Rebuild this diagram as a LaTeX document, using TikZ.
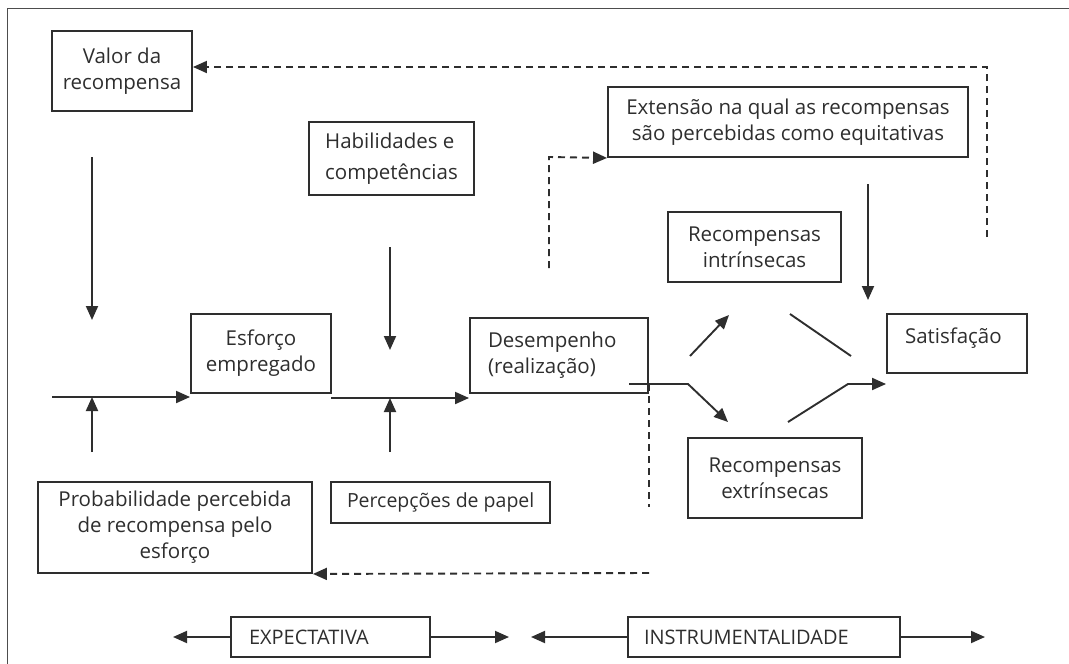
\documentclass[tikz,border=0pt]{standalone}
\usepackage{fontspec}
\setmainfont{Open Sans}
\usetikzlibrary{arrows.meta}
\definecolor{ink}{HTML}{2E2E2E}
\newcommand\fixw[2]{\makebox[#1][l]{#2}}
\begin{document}
\begin{tikzpicture}[x=1pt,y=-1pt,
  box/.style={draw=ink, line width=1.9pt, inner sep=0pt, text=ink, font=\fontsize{20.5}{26}\selectfont},
  cbox/.style={box, align=center},
  lbox/.style={box, align=left},
  conn/.style={draw=ink, line width=1.9pt},
  arr/.style={conn, -{Triangle[length=14pt,width=12pt]}},
  dline/.style={conn, dash pattern=on 7pt off 5pt},
  darr/.style={dline, -{Triangle[length=14pt,width=12pt]}},
  frame/.style={draw=ink!85, line width=1.9pt}
]
\useasboundingbox (0,0) rectangle (1069,664);
\draw[frame] (7.5,664) -- (7.5,8.5) -- (1069,8.5);

% boxes
\node[cbox, minimum width=140pt, minimum height=80pt] (valor) at (122,71) {Valor da\\recompensa};
\node[lbox, font=\fontsize{20.5}{31}\selectfont, minimum height=73pt, inner xsep=16pt] (hab) at (391.5,158.5) {\fixw{129pt}{Habilidades e}\\competências};
\node[cbox, minimum width=360pt, minimum height=70pt] (ext) at (788,122) {Extensão na qual as recompensas\\são percebidas como equitativas};
\node[cbox, minimum width=173pt, minimum height=70pt] (intr) at (754.5,247) {Recompensas\\intrínsecas};
\node[cbox, minimum width=140pt, minimum height=79pt] (esf) at (261,353.5) {Esforço\\empregado};
\node[lbox, minimum height=75pt, inner xsep=18pt] (des) at (559,355.5) {\fixw{142pt}{Desempenho}\\(realização)};
\node[lbox, minimum height=59pt, inner xsep=18pt, text depth=15pt] (sat) at (957,343.5) {\fixw{104pt}{Satisfação}};
\node[cbox, minimum width=174pt, minimum height=80pt] (extr) at (775,478) {Recompensas\\extrínsecas};
\node[cbox, minimum width=274pt, minimum height=91pt] (prob) at (175,527.5) {Probabilidade percebida\\de recompensa pelo\\esforço};
\node[lbox, font=\fontsize{19.5}{24}\selectfont, minimum height=41pt, inner xsep=16pt] (perc) at (440.5,502.5) {\fixw{187pt}{Percepções de papel}};
\node[lbox, font=\fontsize{20}{24}\selectfont, minimum height=40pt, inner xsep=18pt] (expe) at (330.5,637) {\fixw{163pt}{EXPECTATIVA}};
\node[lbox, font=\fontsize{20}{24}\selectfont, minimum height=40pt, inner xsep=16pt] (instr) at (764,637) {\fixw{240pt}{INSTRUMENTALIDADE}};

% coordinates
\coordinate (v1) at (92,157);
\coordinate (v2) at (92,320);
\coordinate (h0) at (52,397);
\coordinate (u1) at (92,452);
\coordinate (h1) at (331,398);
\coordinate (a1) at (390,247);
\coordinate (a2) at (390,350);
\coordinate (p1) at (390,452);
\coordinate (d1) at (629,384);
\coordinate (d2) at (688,384);
\coordinate (d3) at (728,422);
\coordinate (i1) at (690,356);
\coordinate (i2) at (729,315);
\coordinate (s1) at (790,314);
\coordinate (s2) at (851,356);
\coordinate (e1) at (788,422);
\coordinate (e2) at (848,384);
\coordinate (x1) at (868,184);
\coordinate (x2) at (868,300);
\coordinate (q1) at (549,268);
\coordinate (q2) at (549,157);
\coordinate (r1) at (987,237);
\coordinate (r2) at (987,67);
\coordinate (t1) at (649,384);
\coordinate (t2) at (649,507);
\coordinate (t3) at (649,573);
\coordinate (b1) at (173,637);
\coordinate (b2) at (509,637);
\coordinate (b3) at (531,637);
\coordinate (b4) at (985,637);

% connectors
\draw[arr] (v1) -- (v2);
\draw[arr] (h0) -- (h0 -| esf.west);
\draw[arr] (u1) -- (u1 |- h0);
\draw[arr] (h1) -- (h1 -| des.west);
\draw[arr] (a1) -- (a2);
\draw[arr] (p1) -- (p1 |- h1);
\draw[arr] (d1) -- (d2) -- (d3);
\draw[arr] (i1) -- (i2);
\draw[conn] (s1) -- (s2);
\draw[arr] (e1) -- (e2) -- (e2 -| sat.west);
\draw[arr] (x1) -- (x2);
\draw[darr] (q1) -- (q2) -- (ext.south west);
\draw[darr] (r1) -- (r2) -- (r2 -| valor.east);
\draw[dline] (t1) -- (t2);
\draw[darr] (t3) -- (prob.south east);
\draw[arr] (expe.west) -- (b1);
\draw[arr] (expe.east) -- (b2);
\draw[arr] (instr.west) -- (b3);
\draw[arr] (instr.east) -- (b4);
\end{tikzpicture}
\end{document}
